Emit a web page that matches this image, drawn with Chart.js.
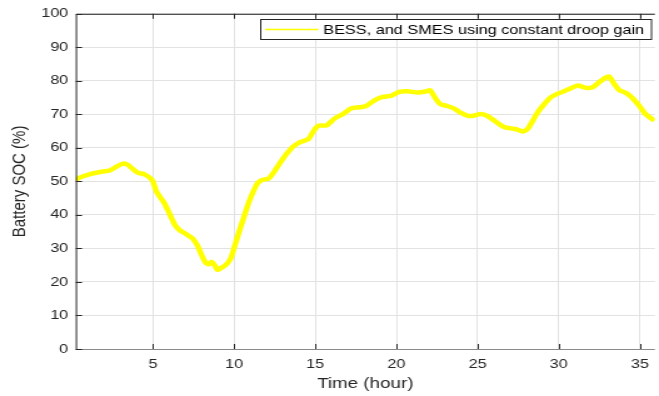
<!DOCTYPE html>
<html>
<head>
<meta charset="utf-8">
<script src="https://cdn.jsdelivr.net/npm/chart.js@4.4.1/dist/chart.umd.min.js"></script>
<style>
  html, body { margin: 0; padding: 0; background: #ffffff; }
  #wrap { width: 659px; height: 396px; overflow: hidden; position: relative; }
  #c { position: absolute; left: 0; top: 0; width: 527px; height: 396px; transform: scaleX(1.25047); transform-origin: 0 0; }
</style>
</head>
<body>
<div id="wrap"><canvas id="c" width="527" height="396"></canvas></div>
<script>
// ---- data ----
const seriesLabel = 'BESS, and SMES using constant droop gain';
const hours = [
  0.26, 0.52, 1.13, 1.74, 2.35, 2.76, 3.17, 3.47, 3.78, 4.08, 4.49, 4.90,
  5.00, 5.24, 5.71, 6.02, 6.33, 6.63, 7.04, 7.44, 7.75, 8.05, 8.28, 8.46,
  8.62, 8.80, 8.98, 9.20, 9.48, 9.79, 9.99, 10.30, 10.71, 10.91, 11.21, 11.46,
  11.72, 12.13, 12.43, 12.84, 13.25, 13.66, 14.07, 14.57, 14.88, 15.18, 15.69, 16.20,
  16.71, 17.22, 17.73, 18.13, 18.65, 19.15, 19.66, 20.17, 20.68, 21.29, 21.80, 22.07,
  22.41, 22.72, 23.12, 23.53, 23.94, 24.45, 24.76, 25.16, 25.57, 25.98, 26.38, 26.69,
  27.20, 27.50, 27.81, 28.12, 28.42, 28.73, 29.13, 29.54, 30.05, 30.56, 31.17, 31.68,
  32.09, 32.49, 32.86, 33.10, 33.41, 33.72, 34.13, 34.53, 34.93, 35.34, 35.89
];
const soc = [
  50.4, 51.2, 52.2, 52.8, 53.3, 54.4, 55.3, 54.9, 53.6, 52.6, 52.1, 50.7,
  50.0, 46.8, 43.5, 40.4, 37.2, 35.5, 34.3, 33.0, 30.8, 27.5, 25.6, 25.3,
  26.0, 25.0, 23.6, 24.2, 25.0, 27.0, 30.0, 34.8, 40.9, 43.8, 47.3, 49.5,
  50.4, 50.9, 52.6, 55.6, 58.3, 60.5, 61.7, 62.6, 64.9, 66.6, 66.7, 68.8,
  70.1, 71.8, 72.1, 72.5, 74.2, 75.2, 75.5, 76.7, 76.9, 76.5, 76.8, 77.2,
  74.7, 73.0, 72.5, 71.8, 70.5, 69.5, 69.6, 70.1, 69.6, 68.3, 66.9, 66.1,
  65.7, 65.4, 64.9, 65.9, 68.3, 70.8, 73.2, 75.2, 76.4, 77.4, 78.6, 77.9,
  78.1, 79.6, 80.9, 81.3, 79.1, 77.2, 76.4, 74.9, 72.7, 70.1, 68.1
];
const xTicks = [5, 10, 15, 20, 25, 30, 35];
const yTicks = [0, 10, 20, 30, 40, 50, 60, 70, 80, 90, 100];
const xTitle = 'Time (hour)';
const yTitle = 'Battery SOC (%)';

const FONT = '"Liberation Sans", Arial, Helvetica, sans-serif';
const AXIS = '#262626';

const framePlugin = {
  id: 'frame',
  afterDatasetsDraw(chart) {
    const {ctx, chartArea: a, scales: {x, y}} = chart;
    ctx.save();
    ctx.lineWidth = 1;
    ctx.strokeStyle = '#8a8a8a';
    ctx.beginPath(); ctx.moveTo(a.left, a.bottom + 0.5); ctx.lineTo(a.right, a.bottom + 0.5); ctx.stroke();
    ctx.strokeStyle = AXIS;
    ctx.beginPath();
    ctx.moveTo(a.left + 0.5, a.bottom + 0.5); ctx.lineTo(a.left + 0.5, a.top + 0.5); ctx.lineTo(a.right, a.top + 0.5);
    ctx.stroke();
    ctx.beginPath();
    yTicks.forEach(v => { const py = Math.round(y.getPixelForValue(v)) + 0.5; ctx.moveTo(a.left, py); ctx.lineTo(a.left + 5, py); });
    xTicks.forEach(v => {
      const px = Math.round(x.getPixelForValue(v)) + 0.5;
      ctx.moveTo(px, a.bottom); ctx.lineTo(px, a.bottom - 5);
      ctx.moveTo(px, a.top); ctx.lineTo(px, a.top + 5);
    });
    ctx.stroke();
    ctx.restore();
  },
  afterDraw(chart) {
    const {ctx} = chart;
    const ds = chart.data.datasets[0];
    const bx = 208.5, by = 19.5, bw = 312.5, bh = 20;
    ctx.save();
    ctx.fillStyle = '#ffffff';
    ctx.fillRect(bx, by, bw, bh);
    ctx.strokeStyle = AXIS;
    ctx.lineWidth = 1;
    ctx.strokeRect(bx, by, bw, bh);
    ctx.strokeStyle = ds.borderColor;
    ctx.lineWidth = 1.5;
    ctx.beginPath(); ctx.moveTo(212, by + bh / 2); ctx.lineTo(254.5, by + bh / 2); ctx.stroke();
    ctx.fillStyle = '#000000';
    ctx.font = '13px ' + FONT;
    ctx.textBaseline = 'middle';
    ctx.textAlign = 'left';
    ctx.fillText(ds.label, 258.5, by + bh / 2 + 0.5);
    ctx.restore();
  }
};

new Chart(document.getElementById('c'), {
  type: 'line',
  data: {
    datasets: [{
      label: seriesLabel,
      data: hours.map((h, i) => ({x: h, y: soc[i]})),
      borderColor: '#ffff00',
      backgroundColor: '#ffff00',
      borderWidth: 4.5,
      pointRadius: 0,
      tension: 0.2,
      fill: false
    }]
  },
  options: {
    responsive: false,
    maintainAspectRatio: false,
    devicePixelRatio: 1,
    animation: false,
    layout: { padding: { top: 9, right: 0, left: 0, bottom: 0 } },
    plugins: { legend: { display: false }, tooltip: { enabled: false } },
    scales: {
      x: {
        type: 'linear',
        min: 0.25,
        max: 35.92,
        afterBuildTicks: s => { s.ticks = xTicks.map(v => ({value: v})); },
        afterFit: s => { s.height = 47; },
        grid: { color: '#e2e2e2', lineWidth: 1, drawTicks: false },
        border: { display: false },
        ticks: { color: AXIS, font: { family: FONT, size: 13 }, padding: 8, maxRotation: 0, autoSkip: false },
        title: { display: true, text: xTitle, color: AXIS, font: { family: FONT, size: 15 }, padding: { top: 0, bottom: 3 } }
      },
      y: {
        type: 'linear',
        min: 0,
        max: 100,
        afterBuildTicks: s => { s.ticks = yTicks.map(v => ({value: v})); },
        afterFit: s => { s.width = 60.6; },
        grid: { color: '#e2e2e2', lineWidth: 1, drawTicks: false },
        border: { display: false },
        ticks: { color: AXIS, font: { family: FONT, size: 13 }, padding: 6, autoSkip: false },
        title: { display: true, text: yTitle, color: AXIS, font: { family: FONT, size: 15 }, padding: { top: 7, bottom: 0 } }
      }
    }
  },
  plugins: [framePlugin]
});
</script>
</body>
</html>
